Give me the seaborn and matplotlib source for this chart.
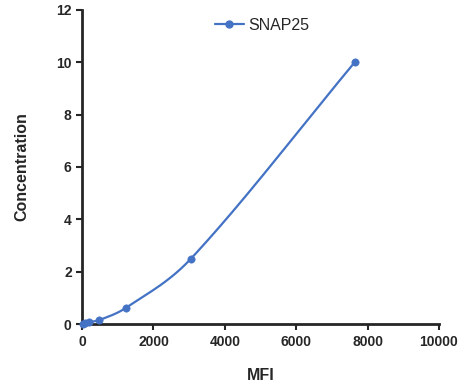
"""SNAP25 standard curve: concentration vs MFI"""
import numpy as np
import pandas as pd
import matplotlib
matplotlib.use("Agg")
import matplotlib.pyplot as plt
import seaborn as sns

# data
mfi = [30, 80, 200, 480, 1230, 3050, 7640]
concentration = [0.0, 0.039, 0.078, 0.156, 0.625, 2.5, 10.0]
series_name = "SNAP25"

df = pd.DataFrame({"MFI": mfi, "Concentration": concentration})

sns.set_style("ticks")
plt.rcParams["font.family"] = ["Liberation Sans", "DejaVu Sans"]

colour = "#4472C4"


def smooth(x, y, n=60):
    # cubic hermite through the points, catmull-rom style tangents
    x = np.asarray(x, float)
    y = np.asarray(y, float)
    h = np.diff(x)
    d = np.diff(y) / h
    m = np.empty_like(x)
    m[0], m[-1] = d[0], d[-1]
    m[1:-1] = (y[2:] - y[:-2]) / (x[2:] - x[:-2])
    xs, ys = [], []
    t = np.linspace(0, 1, n)
    h00 = 2 * t**3 - 3 * t**2 + 1
    h10 = t**3 - 2 * t**2 + t
    h01 = -2 * t**3 + 3 * t**2
    h11 = t**3 - t**2
    for i in range(len(x) - 1):
        xs.append(x[i] + t * h[i])
        ys.append(h00 * y[i] + h10 * h[i] * m[i] + h01 * y[i + 1] + h11 * h[i] * m[i + 1])
    return np.concatenate(xs), np.concatenate(ys)


fig = plt.figure(figsize=(4.69, 3.92), dpi=100)
ax = fig.add_axes([0.175, 0.173, 0.761, 0.802])

sx, sy = smooth(df["MFI"], df["Concentration"])
ax.plot(sx, sy, color=colour, lw=1.6, clip_on=False)
sns.scatterplot(data=df, x="MFI", y="Concentration", ax=ax, color=colour,
                s=28, edgecolor=colour, zorder=3, clip_on=False)
ax.plot([], [], color=colour, lw=1.6, marker="o", ms=5, label=series_name)

ax.set_xlim(0, 10000)
ax.set_ylim(0, 12)
ax.set_xticks(range(0, 10001, 2000))
ax.set_yticks(range(0, 13, 2))
for lab in ax.get_xticklabels() + ax.get_yticklabels():
    lab.set_fontweight("bold")
    lab.set_fontsize(10)
ax.tick_params(width=1.5, length=4, direction="out")
for s in ["left", "bottom"]:
    ax.spines[s].set_linewidth(2)
sns.despine(ax=ax)

ax.set_xlabel("MFI", fontsize=11.5, fontweight="bold", labelpad=14)
ax.set_ylabel("Concentration", fontsize=11.5, fontweight="bold", labelpad=19)

ax.legend(loc="upper center", bbox_to_anchor=(0.505, 1.02), frameon=False,
          fontsize=11.5, handlelength=1.8, handletextpad=0.3)

fig.savefig("out.png", dpi=100)
